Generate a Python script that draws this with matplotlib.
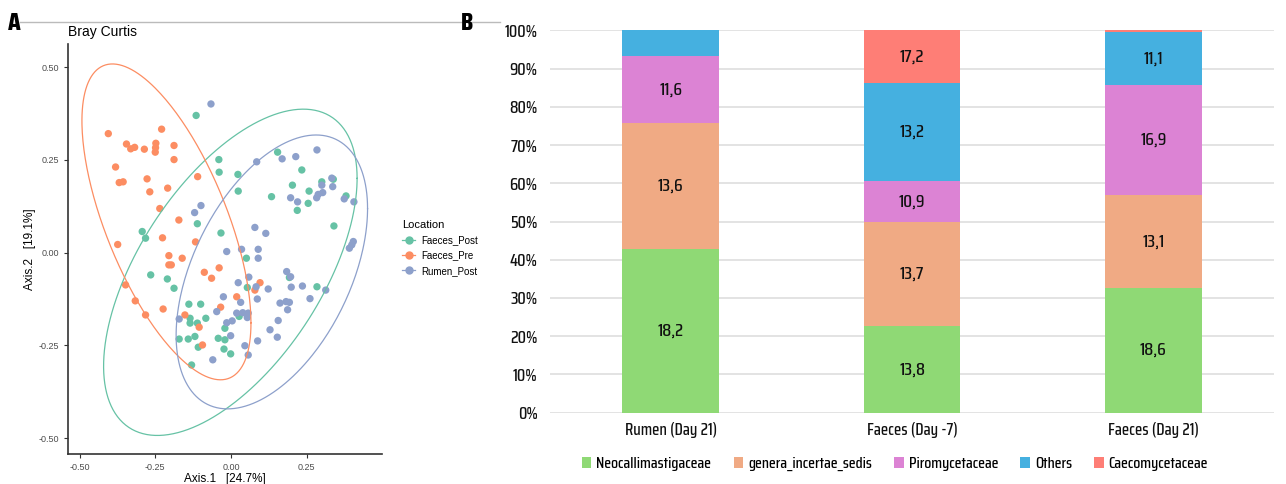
import numpy as np
import matplotlib
matplotlib.use('Agg')
import matplotlib.pyplot as plt
from matplotlib.lines import Line2D
from matplotlib.patches import Patch

plt.rcParams['font.family'] = ['Liberation Sans', 'DejaVu Sans']
NARROW = ['Saira Condensed', 'Saira SemiCondensed', 'Roboto Condensed', 'DejaVu Sans']

# ---- panel A: PCoA (Bray Curtis) ----
faeces_post_x = [-0.115, -0.040, -0.039, 0.023, 0.024, 0.154, 0.234, 0.203, 0.134, 0.258,
                 0.255, 0.219, 0.300, 0.338, 0.380, 0.340, -0.111, -0.033, -0.293, -0.282,
                 0.051, -0.265, -0.210, -0.188, 0.054, 0.193, 0.284, -0.139, -0.100, -0.135,
                 -0.135, -0.111, -0.083, 0.027, -0.020, -0.171, -0.141, -0.119, -0.108, -0.042,
                 -0.020, -0.023, -0.001, -0.130]
faeces_post_y = [0.370, 0.251, 0.217, 0.211, 0.166, 0.271, 0.223, 0.182, 0.151, 0.166,
                 0.133, 0.114, 0.191, 0.198, 0.153, 0.072, 0.078, 0.053, 0.057, 0.039,
                 -0.015, -0.060, -0.071, -0.096, -0.094, -0.067, -0.092, -0.139, -0.139, -0.177,
                 -0.190, -0.190, -0.177, -0.172, -0.204, -0.233, -0.233, -0.226, -0.255, -0.231,
                 -0.235, -0.260, -0.273, -0.303]

faeces_pre_x = [-0.405, -0.229, -0.345, -0.331, -0.318, -0.286, -0.248, -0.249, -0.250, -0.188,
                -0.188, -0.381, -0.369, -0.356, -0.277, -0.110, -0.268, -0.209, -0.235, -0.172,
                -0.374, -0.226, -0.117, -0.205, -0.161, -0.205, -0.197, -0.088, -0.064, -0.039,
                -0.348, 0.096, 0.079, -0.316, -0.224, -0.282, 0.019, -0.034, -0.152, -0.105,
                -0.094]
faeces_pre_y = [0.321, 0.333, 0.293, 0.280, 0.284, 0.279, 0.295, 0.283, 0.271, 0.289,
                0.251, 0.231, 0.189, 0.191, 0.199, 0.205, 0.164, 0.174, 0.119, 0.088,
                0.022, 0.040, 0.029, -0.008, -0.015, -0.033, -0.033, -0.053, -0.069, -0.041,
                -0.087, -0.081, -0.101, -0.130, -0.152, -0.168, -0.119, -0.147, -0.168, -0.201,
                -0.249]

rumen_post_x = [-0.066, 0.085, 0.169, 0.214, 0.284, 0.333, 0.336, 0.300, 0.197, 0.220,
                0.283, 0.288, 0.303, 0.374, 0.406, -0.099, -0.120, 0.079, 0.115, -0.014,
                0.035, 0.090, 0.090, 0.391, 0.399, 0.404, 0.184, 0.197, 0.059, 0.024,
                0.083, 0.123, 0.199, 0.236, 0.313, -0.025, 0.032, 0.087, 0.162, 0.182,
                0.193, 0.261, 0.187, -0.047, 0.019, 0.039, 0.057, 0.054, -0.171, -0.014,
                0.004, 0.156, 0.129, 0.153, -0.001, 0.088, 0.046, 0.057, -0.060]
rumen_post_y = [0.401, 0.245, 0.253, 0.259, 0.277, 0.201, 0.178, 0.182, 0.148, 0.137,
                0.148, 0.157, 0.162, 0.145, 0.137, 0.127, 0.108, 0.068, 0.052, 0.003,
                0.009, 0.009, -0.015, 0.012, 0.021, 0.030, -0.051, -0.065, -0.066, -0.081,
                -0.092, -0.098, -0.093, -0.090, -0.101, -0.119, -0.134, -0.125, -0.136, -0.132,
                -0.134, -0.124, -0.154, -0.159, -0.163, -0.162, -0.163, -0.175, -0.179, -0.189,
                -0.184, -0.183, -0.208, -0.228, -0.224, -0.238, -0.251, -0.276, -0.289]

locations = ['Faeces_Post', 'Faeces_Pre', 'Rumen_Post']
loc_colors = ['#66C2A5', '#FC8D62', '#8DA0CB']
# ellipse centre and shape matrix (a, b, d)
ell_centers = [(-0.002, -0.053), (-0.213, 0.083), (0.135, -0.052)]
ell_shapes = [(0.1752, 0.106, 0.1936), (0.0779, -0.076, 0.1814), (0.0999, 0.054, 0.1364)]

# ---- panel B: stacked bars ----
samples = ['Rumen (Day 21)', 'Faeces (Day -7)', 'Faeces (Day 21)']
families = ['Neocallimastigaceae', 'genera_incertae_sedis', 'Piromycetaceae', 'Others', 'Caecomycetaceae']
fam_colors = ['#8FD975', '#F0AA84', '#DC83D4', '#45B0E0', '#FE7E76']
pct = {
    'Neocallimastigaceae':   [42.8, 22.7, 32.7],
    'genera_incertae_sedis': [33.0, 27.1, 24.2],
    'Piromycetaceae':        [17.5, 10.9, 28.7],
    'Others':                [6.7, 25.5, 14.0],
    'Caecomycetaceae':       [0.0, 13.8, 0.4],
}
labels = {
    'Neocallimastigaceae':   ['18,2', '13,8', '18,6'],
    'genera_incertae_sedis': ['13,6', '13,7', '13,1'],
    'Piromycetaceae':        ['11,6', '10,9', '16,9'],
    'Others':                ['', '13,2', '11,1'],
    'Caecomycetaceae':       ['', '17,2', ''],
}

fig = plt.figure(figsize=(12.86, 4.84), dpi=100)

# panel A
axA = fig.add_axes([0.0529, 0.062, 0.2442, 0.847])
groups = [(faeces_post_x, faeces_post_y), (faeces_pre_x, faeces_pre_y), (rumen_post_x, rumen_post_y)]
t = np.linspace(0, 2 * np.pi, 300)
for (gx, gy), col, c, (a, b, d) in zip(groups, loc_colors, ell_centers, ell_shapes):
    axA.scatter(gx, gy, s=28, color=col, edgecolors='none', zorder=2)
    l11 = np.sqrt(a)
    l21 = b / l11
    l22 = np.sqrt(d - l21 ** 2)
    ex = c[0] + l11 * np.cos(t)
    ey = c[1] + l21 * np.cos(t) + l22 * np.sin(t)
    axA.plot(ex, ey, color=col, lw=0.9, zorder=3)

axA.set_xlim(-0.538, 0.499)
axA.set_ylim(-0.543, 0.5626)
axA.set_xticks([-0.5, -0.25, 0.0, 0.25])
axA.set_xticklabels(['-0.50', '-0.25', '0.00', '0.25'])
axA.set_yticks([-0.5, -0.25, 0.0, 0.25, 0.5])
axA.set_yticklabels(['-0.50', '-0.25', '0.00', '0.25', '0.50'])
axA.tick_params(labelsize=6.5, labelcolor='#4D4D4D', color='#333333', length=3, width=0.8)
for s in ['top', 'right']:
    axA.spines[s].set_visible(False)
for s in ['left', 'bottom']:
    axA.spines[s].set_color('#333333')
    axA.spines[s].set_linewidth(1.2)
axA.set_xlabel('Axis.1   [24.7%]', fontsize=8.5, labelpad=1)
axA.set_ylabel('Axis.2   [19.1%]', fontsize=8.5, labelpad=2)
fig.text(68 / 1286, 1 - 32 / 484, 'Bray Curtis', fontsize=10, va='center', ha='left')

handles = [Line2D([], [], color=c, marker='o', markersize=5, lw=0.9) for c in loc_colors]
fig.legend(handles, locations, title='Location', loc='upper left',
           bbox_to_anchor=(393 / 1286, 1 - 211 / 484), frameon=False,
           fontsize=7, title_fontsize=8, handlelength=1.4, handletextpad=0.6,
           labelspacing=0.55, alignment='left')

# panel B
axB = fig.add_axes([0.4277, 0.1473, 0.5630, 0.7901])
xpos = np.arange(len(samples))
bottom = np.zeros(len(samples))
for fam, col in zip(families, fam_colors):
    vals = np.array(pct[fam])
    axB.bar(xpos, vals, bottom=bottom, width=0.4, color=col, edgecolor='none', zorder=2)
    for i, (v, lab) in enumerate(zip(vals, labels[fam])):
        if lab:
            axB.text(xpos[i], bottom[i] + v / 2, lab, ha='center', va='center',
                     fontsize=13, fontweight='medium', family=NARROW, color='#111111', zorder=3)
    bottom += vals

axB.set_xlim(-0.5, 2.5)
axB.set_ylim(0, 100)
axB.set_yticks(np.arange(0, 101, 10))
axB.set_yticklabels([f'{v}%' for v in range(0, 101, 10)], family=NARROW,
                    fontsize=12.5, fontweight='medium')
axB.set_xticks(xpos)
axB.set_xticklabels(samples, family=NARROW, fontsize=12, fontweight='medium')
axB.yaxis.grid(True, color='#E3E3E3', lw=1.4, zorder=0)
axB.set_axisbelow(True)
axB.tick_params(length=0, colors='#111111')
axB.tick_params(axis='y', pad=9)
axB.tick_params(axis='x', pad=7)
for s in axB.spines.values():
    s.set_visible(False)

fam_handles = [Patch(facecolor=c, edgecolor='none') for c in fam_colors]
fig.legend(fam_handles, families, loc='center', ncol=5, bbox_to_anchor=(0.696, 0.041),
           frameon=False, prop={'family': NARROW, 'size': 11.5, 'weight': 'medium'},
           handlelength=0.6, handleheight=0.6, handletextpad=0.3, columnspacing=1.4)

# panel letters and top rule
fig.add_artist(Line2D([20 / 1286, 500 / 1286], [1 - 22 / 484, 1 - 22 / 484],
                      color='#BBBBBB', lw=1))
fig.text(8 / 1286, 1 - 23 / 484, 'A', fontsize=18, fontweight='heavy', family=NARROW, va='center')
fig.text(461 / 1286, 1 - 23 / 484, 'B', fontsize=18, fontweight='heavy', family=NARROW, va='center')

fig.savefig('out.png', dpi=100)
